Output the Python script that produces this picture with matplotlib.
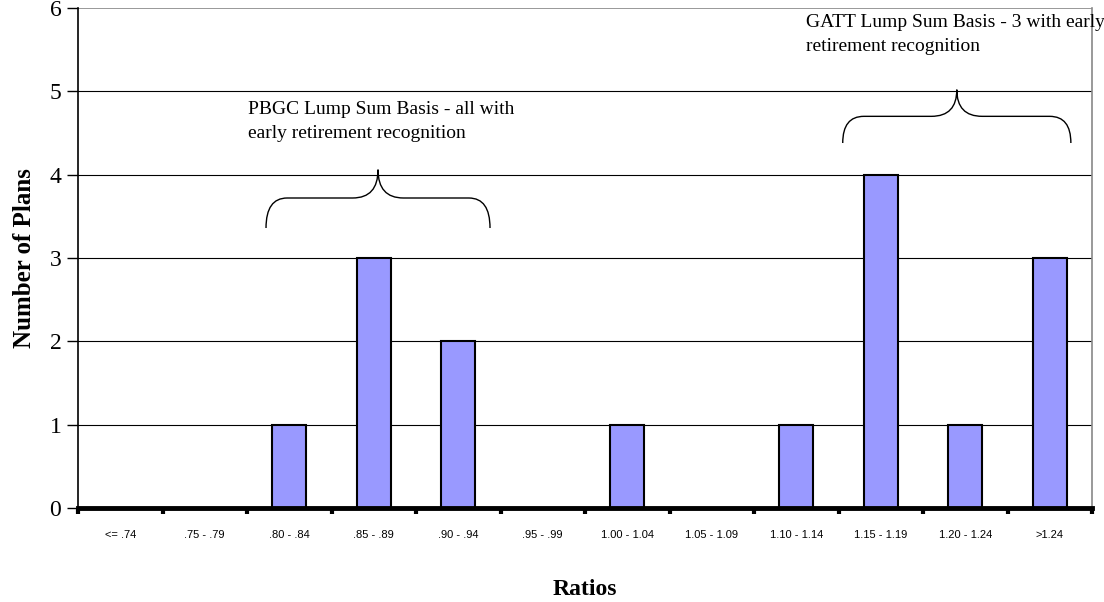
import matplotlib.pyplot as plt
from matplotlib.path import Path
from matplotlib.patches import PathPatch
import numpy as np

# data
categories = ['<= .74', '.75 - .79', '.80 - .84', '.85 - .89', '.90 - .94', '.95 - .99',
              '1.00 - 1.04', '1.05 - 1.09', '1.10 - 1.14', '1.15 - 1.19', '1.20 - 1.24', '>1.24']
plans = [0, 0, 1, 3, 2, 0, 1, 0, 1, 4, 1, 3]
yticks = [0, 1, 2, 3, 4, 5, 6]

note_pbgc = 'PBGC Lump Sum Basis - all with\nearly retirement recognition'
note_gatt = 'GATT Lump Sum Basis - 3 with early\nretirement recognition'

SERIF = 'Liberation Serif'
SANS = 'Liberation Sans'


def brace(ax, x0, x1, y_end, y_flat, y_tip):
    ''' curly brace opening downward'''
    xm = (x0 + x1) / 2.0
    r = 0.25
    r2 = 0.3
    verts = [(x0, y_end), (x0, y_flat), (x0 + r, y_flat),
             (xm - r2, y_flat), (xm, y_flat), (xm, y_tip),
             (xm, y_flat), (xm + r2, y_flat),
             (x1 - r, y_flat), (x1, y_flat), (x1, y_end)]
    codes = [Path.MOVETO, Path.CURVE3, Path.CURVE3,
             Path.LINETO, Path.CURVE3, Path.CURVE3,
             Path.CURVE3, Path.CURVE3,
             Path.LINETO, Path.CURVE3, Path.CURVE3]
    ax.add_patch(PathPatch(Path(verts, codes), fill=False, lw=1.0, color='black', clip_on=False))


fig = plt.figure(figsize=(11.04, 6.02), dpi=100)
ax = fig.add_axes([78 / 1104, 1 - 508 / 602, (1092 - 78) / 1104, 500 / 602])

x = np.arange(len(categories))
ax.bar(x, plans, width=0.4, color='#9999FF', edgecolor='black', linewidth=1.5, zorder=3)

ax.set_xlim(-0.5, len(categories) - 0.5)
ax.set_ylim(0, 6)
ax.set_yticks(yticks)
ax.set_yticklabels([str(v) for v in yticks], fontsize=17, family=SERIF)
for v in yticks[1:-1]:
    ax.axhline(v, color='black', lw=0.8, zorder=1)
ax.axhline(6, color='#888888', lw=1.2, zorder=1)

# category boundaries as ticks, labels in between
ax.set_xticks(np.arange(-0.5, len(categories)), minor=False)
ax.set_xticklabels([])
ax.set_xticks(x, minor=True)
ax.set_xticklabels(categories, minor=True, fontsize=8, family=SANS)
ax.tick_params(axis='x', which='major', direction='out', length=4, width=3, color='black')
ax.tick_params(axis='x', which='minor', length=0, pad=16)
ax.tick_params(axis='y', direction='out', length=8, width=1, pad=4)

ax.spines['top'].set_visible(False)
ax.spines['right'].set_color('#888888')
ax.spines['right'].set_linewidth(1.2)
ax.spines['left'].set_linewidth(1.2)
ax.spines['bottom'].set_linewidth(3.5)
ax.spines['bottom'].set_zorder(4)

ax.set_ylabel('Number of Plans', fontsize=18, family=SERIF, fontweight='bold', labelpad=10)
ax.set_xlabel('Ratios', fontsize=17, family=SERIF, fontweight='bold', labelpad=28)

brace(ax, 1.725, 4.376, 3.36, 3.72, 4.06)
brace(ax, 8.55, 11.25, 4.38, 4.70, 5.02)

ax.text(1.51, 4.89, note_pbgc, fontsize=14, family=SERIF, va='top', ha='left', linespacing=1.55)
ax.text(8.12, 5.93, note_gatt, fontsize=14, family=SERIF, va='top', ha='left', linespacing=1.55, clip_on=False)

fig.savefig('out.png', dpi=100)
